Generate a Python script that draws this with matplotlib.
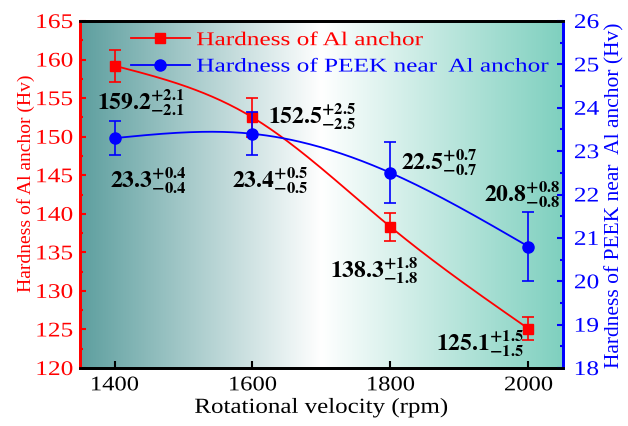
import numpy as np
import matplotlib
matplotlib.use('Agg')
import matplotlib.pyplot as plt
from matplotlib.colors import LinearSegmentedColormap
from matplotlib.patheffects import AbstractPathEffect
from matplotlib.transforms import Affine2D

plt.rcParams['font.family'] = ['Liberation Serif', 'DejaVu Serif']
plt.rcParams['mathtext.fontset'] = 'stix'

# data
speed = [1400, 1600, 1800, 2000]
al_hardness = [159.2, 152.5, 138.3, 125.1]
al_err = [2.1, 2.5, 1.8, 1.5]
peek_hardness = [23.3, 23.4, 22.5, 20.8]
peek_err = [0.4, 0.5, 0.7, 0.8]

# label positions (x, left-axis y) for the value annotations
al_label_pos = [(1375, 154.5), (1623, 152.7), (1713, 132.8), (1866, 123.3)]
peek_label_pos = [(1394, 144.4), (1571, 144.4), (1815, 146.8), (1935, 142.6)]


class WideText(AbstractPathEffect):
    # the source figure's regular text is wider than Times, so stretch it sideways
    def __init__(self, sx, anchor='left'):
        super().__init__()
        self.sx = sx
        self.anchor = anchor

    def draw_path(self, renderer, gc, tpath, affine, rgbFace=None):
        ext = tpath.get_extents(affine)
        if self.anchor == 'left':
            cx = ext.x0
        elif self.anchor == 'right':
            cx = ext.x1
        else:
            cx = (ext.x0 + ext.x1) / 2
        stretch = Affine2D().translate(-cx, 0).scale(self.sx, 1).translate(cx, 0)
        renderer.draw_path(gc, tpath, affine + stretch, rgbFace)


def natural_spline(x, y, n=200):
    # plain natural cubic spline, only used to draw the smooth connecting line
    x = np.asarray(x, float)
    y = np.asarray(y, float)
    k = len(x)
    h = np.diff(x)
    A = np.zeros((k, k))
    b = np.zeros(k)
    A[0, 0] = 1
    A[-1, -1] = 1
    for i in range(1, k - 1):
        A[i, i - 1] = h[i - 1]
        A[i, i] = 2 * (h[i - 1] + h[i])
        A[i, i + 1] = h[i]
        b[i] = 3 * ((y[i + 1] - y[i]) / h[i] - (y[i] - y[i - 1]) / h[i - 1])
    c = np.linalg.solve(A, b)
    xs = np.linspace(x[0], x[-1], n)
    ys = np.empty_like(xs)
    for j, xv in enumerate(xs):
        i = min(np.searchsorted(x, xv, side='right') - 1, k - 2)
        bi = (y[i + 1] - y[i]) / h[i] - h[i] * (2 * c[i] + c[i + 1]) / 3
        di = (c[i + 1] - c[i]) / (3 * h[i])
        t = xv - x[i]
        ys[j] = y[i] + bi * t + c[i] * t ** 2 + di * t ** 3
    return xs, ys


fig = plt.figure(figsize=(6.28, 4.27), dpi=100)
ax = fig.add_axes([0.1274, 0.1358, 0.769, 0.8127])
ax2 = ax.twinx()

ax.set_xlim(1350, 2050)
ax.set_ylim(120, 165)
ax2.set_ylim(18, 26)

# background gradient
cmap = LinearSegmentedColormap.from_list('bg', ['#5e9f9f', '#ffffff', '#7fd0bf'])
grad = np.linspace(0, 1, 256).reshape(1, -1)
ax.imshow(grad, cmap=cmap, aspect='auto', extent=[1350, 2050, 120, 165], zorder=0)

red = '#ff0000'
blue = '#0000ff'

xs, ys = natural_spline(speed, al_hardness)
ax.plot(xs, ys, color=red, lw=1.3, zorder=3)
ax.errorbar(speed, al_hardness, yerr=al_err, fmt='s', color=red, ms=7.5,
            capsize=4, elinewidth=1.2, capthick=1.2, zorder=4)

xs2, ys2 = natural_spline(speed, peek_hardness)
ax2.plot(xs2, ys2, color=blue, lw=1.3, zorder=3)
ax2.errorbar(speed, peek_hardness, yerr=peek_err, fmt='o', color=blue, ms=8,
             capsize=4, elinewidth=1.2, capthick=1.2, zorder=4)

# annotations
for (x, y), v, e in zip(al_label_pos, al_hardness, al_err):
    ax.text(x, y, r'$\mathbf{%.1f}^{\mathbf{+%.1f}}_{\mathbf{-%.1f}}$' % (v, e, e),
            fontsize=17, ha='left', va='center', zorder=5)
for (x, y), v, e in zip(peek_label_pos, peek_hardness, peek_err):
    ax.text(x, y, r'$\mathbf{%.1f}^{\mathbf{+%.1f}}_{\mathbf{-%.1f}}$' % (v, e, e),
            fontsize=17, ha='left', va='center', zorder=5)

# legend
h1 = plt.Line2D([], [], color=red, marker='s', ms=7.5, lw=1.3)
h2 = plt.Line2D([], [], color=blue, marker='o', ms=8, lw=1.3)
leg = ax.legend([h1, h2], ['Hardness of Al anchor', 'Hardness of PEEK near  Al anchor'],
                loc='upper left', bbox_to_anchor=(0.07, 1.02), frameon=False,
                fontsize=14, handlelength=3.0, labelspacing=0.45, handletextpad=0.35)
for t, c in zip(leg.get_texts(), [red, blue]):
    t.set_color(c)
    t.set_path_effects([WideText(1.3, 'left')])
leg.set_zorder(6)

# axes styling
ax.set_xticks(speed)
ax.set_yticks(np.arange(120, 166, 5))
ax.set_yticks(np.arange(120, 165, 2.5), minor=True)
ax2.set_yticks(np.arange(18, 27, 1))
ax2.set_yticks(np.arange(18, 26, 0.5), minor=True)

ax.tick_params(axis='x', direction='in', length=5, width=1.5, labelsize=15, colors='black', pad=6)
ax.tick_params(axis='y', which='major', direction='in', length=4.5, width=1.5, labelsize=15, colors=red, pad=5)
ax.tick_params(axis='y', which='minor', direction='in', length=2.5, width=1.5, colors=red)
ax2.tick_params(axis='y', which='major', direction='in', length=4.5, width=1.5, labelsize=15, colors=blue, pad=8)
ax2.tick_params(axis='y', which='minor', direction='in', length=2.5, width=1.5, colors=blue)

for a in (ax, ax2):
    a.spines['left'].set_color(red)
    a.spines['right'].set_color(blue)
    a.spines['top'].set_color('black')
    a.spines['bottom'].set_color('black')
    for s in a.spines.values():
        s.set_linewidth(2)

ax.set_xlabel('Rotational velocity (rpm)', fontsize=15.5, labelpad=2)
ax.set_ylabel('Hardness of Al anchor (Hv)', fontsize=14, color=red)
ax2.set_ylabel('Hardness of PEEK near  Al anchor (Hv)', fontsize=15.5, color=blue)
ax.yaxis.set_label_coords(-0.093, 0.536)
ax2.yaxis.set_label_coords(1.087, 0.50)
ax.xaxis.label.set_path_effects([WideText(1.16, 'center')])

fig.canvas.draw()
for lbl in ax.get_xticklabels():
    lbl.set_path_effects([WideText(1.18, 'center')])
for lbl in ax.get_yticklabels():
    lbl.set_path_effects([WideText(1.22, 'right')])
for lbl in ax2.get_yticklabels():
    lbl.set_path_effects([WideText(1.22, 'left')])

fig.savefig('out.png', dpi=100)
